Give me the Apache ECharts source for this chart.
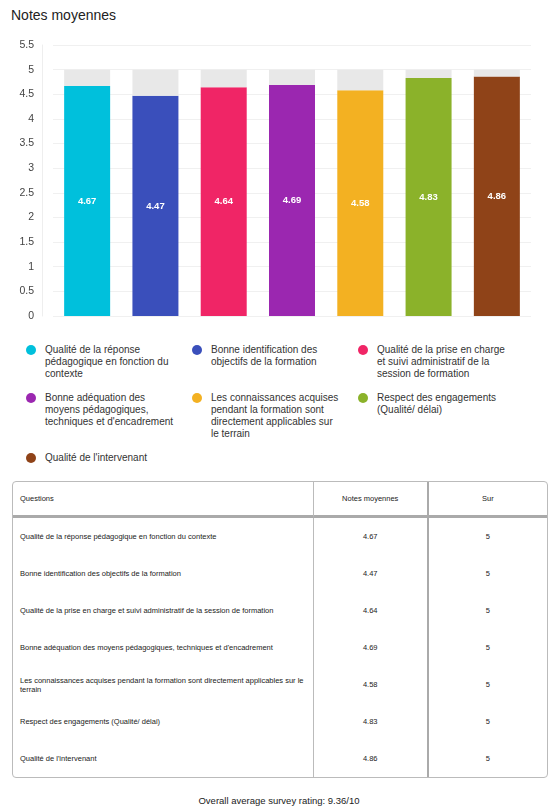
<!DOCTYPE html>
<html><head><meta charset="utf-8">
<script src="https://cdn.jsdelivr.net/npm/echarts@6/dist/echarts.min.js"></script>
<style>
body{margin:0;width:558px;height:809px;font-family:Arial,"Liberation Sans",sans-serif;background:#fff;position:relative;overflow:hidden}
#title{position:absolute;left:11px;top:7px;font-size:14px;color:#222}
#chart{position:absolute;left:0;top:25px;width:558px;height:305px}
#legend{position:absolute;left:26px;top:344px;width:530px;font-size:10px;color:#333}
.li{position:absolute;width:150px;line-height:12px}
.dot{position:absolute;left:0;top:1px;width:10px;height:10px;border-radius:50%}
.li span{display:block;margin-left:19px}
table{position:absolute;left:12px;top:481px;width:536px;border-collapse:separate;border-spacing:0;border:1px solid #bbb;border-radius:4px;font-size:7.5px;color:#222}
th{font-weight:normal;height:33px;border-bottom:3px solid #aaa}
td{height:37px}
th,td{padding:0 7px}
.c{text-align:center;border-left:1px solid #bbb;width:100px}
.c2{width:106px;border-left:2px solid #aaa}
#foot{position:absolute;top:795px;width:558px;text-align:center;font-size:9.5px;color:#222}
</style></head><body>
<div id="title">Notes moyennes</div>
<div id="chart"></div>
<div id="legend"></div>
<table id="tbl"></table>
<div id="foot">Overall average survey rating: 9.36/10</div>
<script>
var questions = ["Qualité de la réponse pédagogique en fonction du contexte","Bonne identification des objectifs de la formation","Qualité de la prise en charge et suivi administratif de la session de formation","Bonne adéquation des moyens pédagogiques, techniques et d'encadrement","Les connaissances acquises pendant la formation sont directement applicables sur le terrain","Respect des engagements (Qualité/ délai)","Qualité de l'intervenant"];
var scores = [4.67, 4.47, 4.64, 4.69, 4.58, 4.83, 4.86];
var maxScore = [5, 5, 5, 5, 5, 5, 5];
var colors = ["#00c0dc","#3a4fbb","#f02566","#9b27b0","#f3b122","#8bb22a","#8f4318"];

var chart = echarts.init(document.getElementById("chart"));
chart.setOption({
    animation: false,
    grid: {left: 53, right: 27, top: 20, bottom: 14},
    xAxis: {type: 'category', data: questions, axisLabel: {show: false}, axisTick: {show: false},
            axisLine: {show: false}},
    yAxis: {type: 'value', min: 0, max: 5.5, interval: 0.5, offset: 11,
            axisLine: {show: true, lineStyle: {color: '#eee'}},
            axisLabel: {color: '#444', fontSize: 10.5},
            splitLine: {lineStyle: {color: '#f0f0f0'}}},
    series: [
        {type: 'bar', stack: 's', barWidth: 46,
         data: scores.map(function (v, i) { return {value: v, itemStyle: {color: colors[i]}}; }),
         label: {show: true, position: 'inside', color: '#fff', fontSize: 9.5, fontWeight: 'bold'}},
        {type: 'bar', stack: 's', barWidth: 46,
         data: scores.map(function (v, i) { return +(maxScore[i] - v).toFixed(2); }),
         itemStyle: {color: '#e8e8e8'}}
    ]
});

var legendText = ["Qualité de la réponse pédagogique en fonction du contexte","Bonne identification des objectifs de la formation","Qualité de la prise en charge et suivi administratif de la session de formation","Bonne adéquation des moyens pédagogiques, techniques et d'encadrement","Les connaissances acquises pendant la formation sont directement applicables sur le terrain","Respect des engagements (Qualité/ délai)","Qualité de l'intervenant"];
var lg = document.getElementById("legend");
var rowsY = [0, 48, 108];
legendText.forEach(function (t, i) {
    var d = document.createElement("div");
    d.className = "li";
    d.style.left = (i % 3) * 166 + "px";
    d.style.top = rowsY[Math.floor(i / 3)] + "px";
    d.innerHTML = '<div class="dot" style="background:' + colors[i] + '"></div><span>' + t + '</span>';
    lg.appendChild(d);
});

var html = '<tr><th style="text-align:left">Questions</th><th class="c">Notes moyennes</th><th class="c c2">Sur</th></tr>';
questions.forEach(function (q, i) {
    html += '<tr><td>' + q + '</td><td class="c">' + scores[i].toFixed(2) + '</td><td class="c c2">' + maxScore[i] + '</td></tr>';
});
document.getElementById("tbl").innerHTML = html;
document.querySelector("#tbl tr:nth-child(6) td").style.width = "290px";
</script>
</body></html>
